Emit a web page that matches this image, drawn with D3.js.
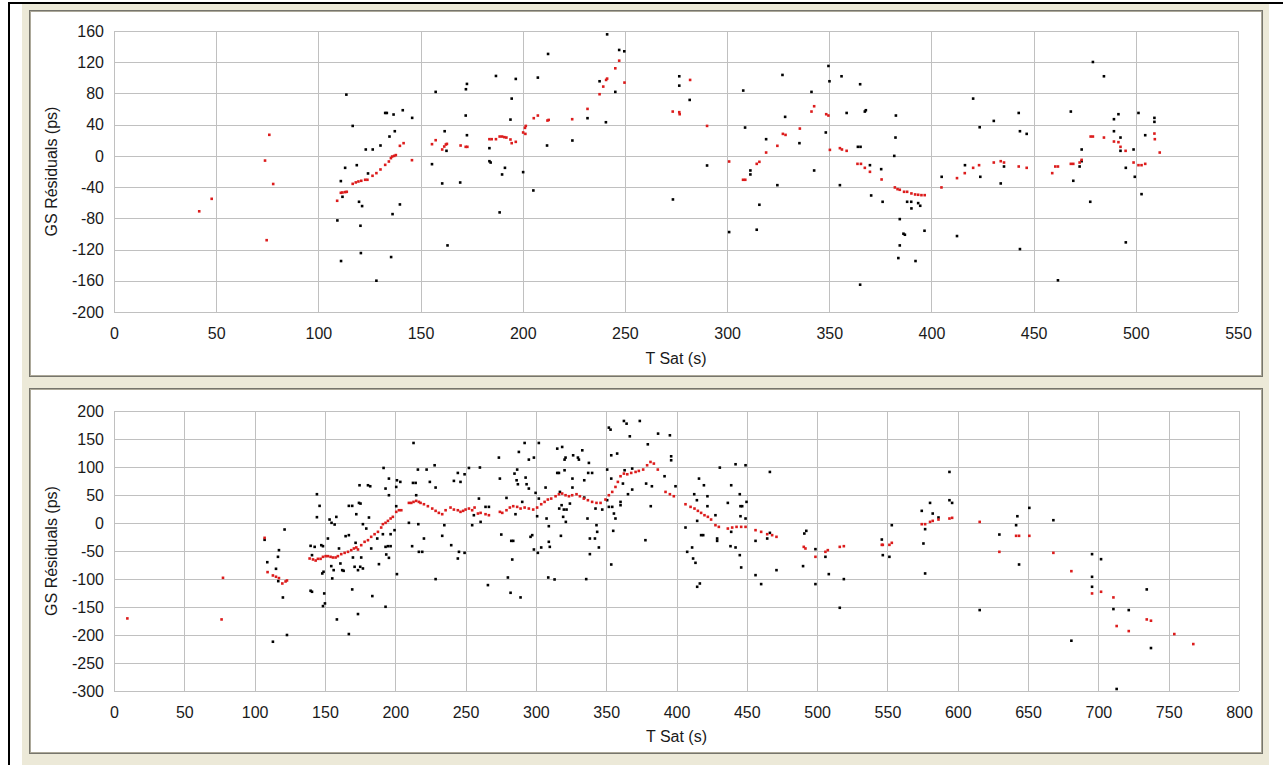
<!DOCTYPE html>
<html>
<head>
<meta charset="utf-8">
<script src="https://cdn.jsdelivr.net/npm/d3@7"></script>
<style>
  body { margin: 0; background: #fff; }
  svg { display: block; }
  .tick text { font-family: "Liberation Sans", Arial, sans-serif; font-size: 16px; fill: #1a1a1a; }
  .axis-title { font-family: "Liberation Sans", Arial, sans-serif; font-size: 16px; fill: #1a1a1a; }
</style>
</head>
<body>
<svg id="chart" width="1283" height="765"></svg>
<script>
// tick values
var topXTicks = [0, 50, 100, 150, 200, 250, 300, 350, 400, 450, 500, 550];
var topYTicks = [-200, -160, -120, -80, -40, 0, 40, 80, 120, 160];
var botXTicks = [0, 50, 100, 150, 200, 250, 300, 350, 400, 450, 500, 550, 600, 650, 700, 750, 800];
var botYTicks = [-300, -250, -200, -150, -100, -50, 0, 50, 100, 150, 200];

var xTitle = "T Sat (s)";
var yTitle = "GS Résiduals (ps)";

// top panel: raw residuals (black), smoothed (red)  [T sat, residual]
var topBlack = [
  [113.7,78.5],[116.8,38.4],[132.7,55],[133.5,55],[136.8,53],[141.3,58.5],[145.9,48.7],[137.4,31.6],
  [134.8,24.8],[130.4,13.3],[126.6,8.2],[123.2,8.2],[113.1,-15.3],[118.8,-11.9],[111,-32.3],[124.3,-22.5],
  [111.8,-52.4],[119.9,-58.8],[121.4,-64.3],[139.9,-62.2],[136.3,-74.6],[109.3,-82.7],[120.6,-89.5],
  [120.8,-124.5],[135.6,-129.6],[111.1,-134.7],[128.4,-159.9],
  [157.4,82],[155.6,-10.6],[161.8,31.6],[160.6,-35.3],[162.7,6.5],[163.2,-114.7],[169.4,-34.1],[172.2,85.4],
  [172.7,92.2],[172.1,51.7],[172.7,26.5],[183.7,9.9],[183.7,-6.8],[184.3,-8.5],[186.9,102.4],[188.7,-72.4],
  [189.9,-23.8],[191.3,-15.3],[194,46.5],[194.6,73.4],[196.6,98.6],[200.2,-20.8],[205.2,-44.3],[207.4,100.3],
  [211.9,13.3],[212.4,130.6],[224.3,19.7],[231.7,48.3],[240.7,43.1],[237.6,95.6],[241.3,155.7],[245.3,82],
  [247.2,135.7],[249.7,134],[273.5,-55.8],[276.6,102],[276.6,90],[281.7,71.7],[290.2,-12.3],[301,-97.6],
  [307.9,83.7],[308.8,36.3],[311.4,-23.8],[311.4,-18.7],[319.1,21.4],[315.8,-62.6],[314.5,-94.6],[324.6,-37.5],
  [327.1,103.7],[328.4,50],[335.4,16.3],[341.3,82],[342.6,-18.7],[348.3,30],[349.6,115.2],[350.1,95.6],
  [356,102],[358.5,55],[355.2,-37.5],[365.3,11.6],[365.1,-165],
  [365.1,91.8],[367.4,56.8],[367.9,58.5],[364,11.6],[369.9,-11.9],[370.5,-50.7],[375.4,-17],[376.1,-58.8],
  [381.8,0],[382.4,23.5],[382.6,51.7],[384.5,-81],[384.5,-114.7],[383.8,-130.9],[386.3,-99.7],[387,-101],
  [388.1,-58.8],[390.1,-58.8],[390.2,-67.3],[393.5,-60.5],[394.5,-63.9],[392.2,-134.7],[396.6,-95.9],
  [405,-26.8],[412.5,-102.7],[416.4,-11.9],[420.4,73.4],[423.6,36.7],[423.9,-26.8],[430.5,44.8],[433.9,-35.3],
  [435.5,-13.6],[442.7,55],[443.3,31.6],[443.3,-119.4],[446.6,28.2],[461.9,-159.4],[468.2,56.8],[469.4,-31.9],
  [472.5,-13.6],[473.5,8.2],[473.5,-6.8],[477.7,-58.8],[479,120.3],[484.4,102],[489.3,47],[491.5,53.4],
  [489.3,31.6],[492.5,23.5],[492.5,6.5],[495.1,-15.3],[495.1,-110.8],[498.9,8.2],[499.5,-26.8],[501.3,55],
  [502.8,-49],[504.6,26.5],[509.1,48.7],[509.1,43.6]
];
var topRed = [
  [41.7,-71],[47.8,-55],[73.9,-6],[74.7,-108],[76,27],[77.9,-36],
  [109.2,-57.5],[111,-47.3],[111.8,-46.9],[113.1,-46.4],[113.9,-46],[116.8,-35.8],[118.3,-34],[119.6,-32.8],
  [121,-31.9],[122.9,-30.6],[124,-30.6],[126.5,-25.5],[128.4,-22.1],[130.4,-17.4],[132.7,-11.5],[134.5,-7.2],
  [135.5,-2.9],[136.1,-0.8],[137.1,0],[137.9,1],[139.9,12.9],[141.7,16.3],[145.8,-5.5],
  [155.6,15],[157.4,20.1],[160.6,8.2],[161.6,12],[162.4,14.6],[162.9,15.4],[169.6,13.3],[172.1,11.6],
  [172.9,11.6],[183.7,21.4],[184.8,21.4],[186.9,21.4],[188.7,24.8],[189.9,24.8],[191,24],[192,23.5],
  [194,21],[194.6,16.3],[196.6,18],[200.2,30],[201.1,35.9],[201.5,38.4],[201.3,28.2],[205.4,48.3],
  [207.4,51.7],[212.1,45.3],[212.7,46.1],[224.2,47],[231.7,60.2],[237.6,79],[239.4,88.8],[240.8,97.3],
  [241.3,99],[245.3,112.2],[247.2,122],[249.8,93.9],[273.4,56.8],[276.6,56],[276.8,53.4],[281.9,97.3],
  [290.2,38.4],[301,-7.2],[307.8,-30.6],[308.9,-30.6],[314.5,-10.2],[315.8,-7.6],[319.1,4.3],[324.6,12.9],
  [327.3,28.2],[328.6,26.9],[335.6,35],[341.3,56.8],[342.6,63.6],[348.5,53.4],[349.6,51.7],[350.3,7.7],
  [355.2,9.9],[356.2,8.2],[358.5,6.5],[365.5,-10.2],[363.8,-10.2],
  [367.4,-15.3],[369.9,-20.4],[375.6,-30.2],[382.1,-40.4],[383.4,-42.6],[384.5,-43.4],[386.6,-46],
  [388.1,-46],[390.2,-48.1],[392,-49.4],[393.5,-49.8],[395.1,-50.3],[396.7,-50.3],[404.9,-40.4],[412.5,-28.5],
  [416.3,-22.1],[420.4,-15.3],[423.3,-11.9],[430.5,-8.5],[433.9,-6.8],[435.5,-8.5],[442.7,-13.6],[446.6,-15.3],
  [459.1,-22.1],[460.6,-13.6],[461.9,-13.6],[468.2,-10.2],[469.4,-10.2],[472.5,-8.5],[473.5,-5.1],[477.9,24.8],
  [479,24.8],[484.4,23.5],[489.3,18.4],[491.5,17.6],[492.5,11.6],[495,6.5],[498.9,-8.5],[501.3,-11.9],
  [502.8,-11.9],[504.6,-10.2],[509.1,28.6],[509.3,21.4],[511.7,4.3]
];

// bottom panel
var botBlack = [
  [109,-70],[113,-212],[115.2,-81.8],[116.6,-60.4],[117.3,-48.5],[116.8,-103.8],[120.1,-133],[121.3,-11.6],[123,-200],
  [107.1,-30],
  [139.8,-121],[140.8,-122.8],[144.3,51.4],[146.2,30.6],[144.3,10.4],[139.8,-40.8],[142.7,-42.6],[140.8,-57.4],
  [147.4,-39.6],[148.6,-41.4],[149,-87.1],[148.1,-90.1],[149.5,-125.8],[150,-143.6],[148.6,-148.4],[152.1,-27.7],
  [153.3,6.2],[154.7,0.3],[156.9,-2.7],[158.1,10.9],[154.5,-77],[156.2,-84.2],[155.2,-99],[158.5,-172.2],
  [160,-45.5],[161,-72.3],[162.3,-84.2],[163.3,-85.4],[164.7,-23.5],[167,-21.7],[167,30.6],[169.4,30.6],
  [167,-198.3],[169.4,-118.6],[171.8,-35.4],[172.3,15.7],[174.2,35.9],[175.3,34.7],[174.6,67.4],[173.5,-162.6],
  [173.5,-84.2],[175.1,-78.2],[177,-81.2],[171.1,-78.2],[169.9,-61.6],[175.8,-61.6],[177,-2.1],[179.4,-9.9],
  [181.3,9.8],[180.6,67.4],[182.2,65.6],[182.9,-45.5],[183.7,-130.5],[188.4,-73.5],[187.2,-27.7],[191.2,-20],
  [191.7,98.3],[193.1,61.5],[195.5,79.3],[195.5,49.6],[193.1,-42.6],[194.8,-41.4],[196.7,-41.4],[193.6,-56.2],
  [195.5,-62.2],[193.1,-149.6],[196.7,-20],[199.5,-12.8],[200.7,64.4],[201.2,76.3],[203.6,73.4],[200.7,30],
  [201.2,-91.3],[209.7,0.3],[212,-41.4],[213,142.9],[212.6,71.6],[214.5,71.6],[216.1,95.4],[214.9,49.6],
  [216.4,-2.1],[216.8,-51.5],
  [222.3,95.4],[228,103.1],[224.6,73.4],[228.7,63.3],[220.4,-27.7],[219.2,-51.5],[228.7,-100.2],[233.4,-22.9],
  [234.9,-3.9],[239.8,-39.6],[241.7,75.2],[244.5,89.4],[246.4,73.4],[249.3,87],[252.4,98.3],[245.3,-51.5],
  [244.5,-63.4],[249.3,-53.3],[254.7,-3.9],[255.9,13.9],[259.5,43.6],[260.2,99.1],[260.7,2],[264.2,28.8],
  [266.6,28.8],[265.9,-110.9],[273.7,116.8],[274.4,79.3],[275.4,-20.6],[279.1,44.8],[280.1,-97.3],[282,-124.6],
  [283.2,-65.2],[282.5,-31.9],[283.9,-31.9],[284.8,88.2],[286.7,95.4],[286.3,76.3],[287.2,69.2],[287.9,126.9],
  [289.1,-132.9],[285.5,15.7],[290.3,37.7],[292,142.9],[292.7,81.1],[293.4,69.2],[295,113.2],[295,61.5],
  [298.6,116.8],[299.8,53.8],[302.1,142.9],[296.2,-24.7],[297.4,-21.7],[298.6,-47.3],[301.4,-53.3],[302.1,43.6],
  [300.9,12.1],[303.8,-43.7],[306.9,63.3],[307.6,8],[309.2,-5.7],[309.2,-33.6],[309.9,-42.6],[308.8,-97.3],
  [313.3,-100.8],[315.2,132.8],[318.7,135.8],[315.2,89.4],[316.4,89.4],[320.4,94.2],[321.1,116.8],[320.4,113.2],
  [326.5,120.9],[329.9,116.8],[333,129.8],[330.6,113.2],[337.7,107.3],[326,79.3],[326,63.3],[334.4,76.3],
  [337.2,89.4],[340,89.4],[317.1,55.5],[316.6,25.8],[318.3,31.8],[319.9,24],[321.8,24],[319.4,11],
  [321.3,2],[324.2,34.7],[317.8,-22.9],[334.4,45.4],[336.7,8],[338.4,-27.7],[342,-27.7],[338.4,-55.6],
  [335.8,-100.2],[343.1,-3.9],[343.6,-15.8],[344.8,-43.7],[342.4,25.8],[347.2,24],[350.7,95.4],[351.9,170.3],
  [353.1,166.7],[353.6,120.9],[357.8,124],[353.6,79.3],[350.7,40.7],[351.9,28.8],[354.3,28.8],[355.5,16.9],
  [356.6,8],[355,-14],[360.2,31.8],[360.2,37.7],[361.9,70.4],[353.6,-74.1],[362.6,182.2],[364.5,177.4],
  [366.8,154.8],[373.9,182.2],[363.1,94.2],[368.5,97.2],[365.5,51.4],[368.5,59.7],[379.6,140.5],[386.9,159.6],
  [395.3,156.6],[396.2,119.1],[396.2,112],[378.4,70.4],[382.5,65.6],[381.7,30],[391.5,83.5],[399.3,65.6],
  [377.9,-30.7],[406.4,-8.1],[407.6,-51.5],[411.1,-43.7],[411.8,-63.4],[413.5,-71.1],[414.7,-113.9],[416.6,-108],
  [416,79.3],[419.5,67.4],[412.6,51.4],[414.5,40.7],[422,47.8],[414.7,3.8],[417.5,-21.7],[419,-21.7],
  [422,30],[427.7,13.9],[428.9,-27.7],[428.9,-31.9],[430.8,98.9],[436.5,35.9],[438.9,67.4],[442,104.9],
  [449.1,103.1],[438.4,-41.4],[442,-43.7],[445,-57.4],[446,-79.4],[438.9,-15.8],[445,51.4],[445.5,30],
  [446.7,30],[445.5,12.1],[449.8,37.7],[449.1,8],[456.2,-31.9],[456.2,-93.1],[460.2,-109.1],[464.5,-27.7],
  [466.4,91.2],[466.4,-17.6],[471.1,-84.2],[490,-77],[490.9,-18.8],[492.3,-14],[498.8,-109.1],[498.8,-46.7],
  [505.9,-60.4],[508.3,-91.3],[516.1,-151.4],[519,-100.2],
  [546,-29.5],[546.7,-57.4],[551.4,-60.4],[553.1,-3.9],[574.4,21.7],[576.8,-11],[575.6,-36.6],[576.8,-90.1],
  [580.3,35.9],[582.2,16.9],[586.3,9.8],[594.1,91.2],[594.1,40.7],[596,35.9],[615.6,-155.5],[629.6,-20.6],
  [642.4,12.1],[641.5,-3.9],[643.6,-74.1],[650.9,27],[668,5],[680.8,-210.2],[695.5,-55.6],[701.9,-64.6],
  [695.5,-96.1],[695.5,-113.9],[710.7,-153.7],[721.6,-155.5],[713,-296.4],[734.4,-118.6],[737.4,-223.3]
];
var botRed = [
  [9.5,-170.4],[77.5,-97.9],[76.5,-172.2],[107.1,-26.5],[109.2,-87.7],[113,-93.7],[115.2,-96],[117.3,-98.4],
  [119.7,-108],[122,-104.4],[123,-102.6],
  [139.1,-63.4],[141.5,-65.1],[143.4,-67],[145,-64],[146.9,-64],[148.6,-60.4],[150.5,-59.2],[152.1,-59.2],
  [154,-60.4],[155.7,-61.6],[157.6,-61.6],[159.2,-59.2],[161.6,-55.6],[164,-53.3],[166.4,-51.5],[168.7,-48.5],
  [170.6,-45.5],[172.3,-43.7],[173.5,-47.3],[175.8,-39.6],[178.2,-33.6],[180.6,-30.7],[182.9,-24.7],[185.3,-20],
  [187.7,-15.8],[190,-8.1],[191.2,-2.1],[193.1,0.3],[194.8,3.8],[196.7,8],[198.3,11],[200.7,19.9],
  [202.6,22.8],[204.3,22.8],[209.7,35.9],[211.4,35.9],[213,37.7],[214.9,39.5],[216.8,37.7],
  [218,35.9],[220.4,33.5],[223.2,30],[226.3,25.8],[228.7,21.7],[231,18.1],[233.4,15.7],[235.8,22.8],
  [239.3,27.6],[241.7,24],[244.5,22.8],[246.4,19.9],[248.3,21.7],[250,24],[252.4,25.8],[254.7,22.8],
  [256.4,27.6],[258.8,16.9],[260.7,18.1],[264.2,15.7],[266.6,13.9],[274.4,19.9],[276.1,18.1],[279.1,22.8],
  [281.5,27.6],[283.9,30],[286.7,28.8],[289.1,25.8],[292,27.6],[295,25.8],[298.1,24],[300.9,27.6],
  [303.8,33.5],[306.2,37.7],[308.5,41.9],[310.9,43.6],[314,47.8],[316.4,51.4],[318.7,52.6],[321.1,49.6],
  [323.5,47.8],[325.8,49.6],[328.9,51.4],[331.3,47.8],[334.1,43.6],[337,40.7],[340,37.7],[343.1,35.9],
  [346,35.9],[349.5,41.9],[351.9,49.6],[354.3,55.5],[356.6,64.4],[358.3,73.4],[360.2,83.5],[362.6,88.2],
  [365,87],[367.8,89.4],[370.9,91.2],[373.2,93],[376.3,95.4],[379.1,103.1],[381.5,109],[383.9,106.1],
  [386.7,95.4],[392.2,55.5],[395.3,51.4],[398.1,47.8],[406.4,33.5],[410,28.8],[412.8,25.8],[415.2,21.7],
  [417.5,18.1],[419.9,13.9],[422.3,11],[424.6,6.2],[427.7,-3.9],[430.1,-6.9],[436.5,-9.9],[439.6,-8.1],
  [442.7,-6.9],[446,-6.9],[449.1,-6.9],[456.2,-12.8],[460.2,-15.8],[464.5,-20],[468,-21.7],[471.1,-24.7],
  [490.5,-42.6],[491.7,-45.5],[498.8,-60.4],[505.9,-51.5],[507.6,-48.5],[516.1,-42.6],[519,-41.4],
  [546,-39],[546.7,-39],[551.4,-39],[553.1,-35.4],[574.4,-2.1],[576.8,-2.1],[580.3,2],[582.2,3.8],
  [586.3,6.2],[594.1,8],[596,9.2],[615.6,2],[629.6,-51.5],[641.5,-22.9],[643.6,-22.9],[650.9,-22.9],
  [668,-53.3],[680.8,-86],[695.5,-125.8],[701.9,-122.8],[710.7,-132.9],[713,-184],[721.6,-193],[734.4,-172.2],
  [737.4,-174.5],[754,-198.3],[767.5,-216.2]
];

var svg = d3.select("#chart");

// window chrome: black frame line, beige background, two sunken panels
svg.append("rect").attr("x", 0).attr("y", 0).attr("width", 1283).attr("height", 765).attr("fill", "#fff");
svg.append("rect").attr("x", 22).attr("y", 4).attr("width", 1247).attr("height", 761).attr("fill", "#ece9d8");
svg.append("rect").attr("x", 8).attr("y", 2).attr("width", 1275).attr("height", 2).attr("fill", "#000");
svg.append("rect").attr("x", 8).attr("y", 2).attr("width", 2).attr("height", 763).attr("fill", "#000");

function drawPanel(cfg) {
  var frame = cfg.frame;
  svg.append("rect")
    .attr("x", frame[0]).attr("y", frame[1])
    .attr("width", frame[2] - frame[0]).attr("height", frame[3] - frame[1])
    .attr("fill", "#fff").attr("stroke", "#76756c").attr("stroke-width", 1);
  svg.append("rect")
    .attr("x", frame[0] + 1).attr("y", frame[1] + 1)
    .attr("width", frame[2] - frame[0] - 2).attr("height", frame[3] - frame[1] - 2)
    .attr("fill", "none").attr("stroke", "#aca899").attr("stroke-width", 1);

  var x = d3.scaleLinear().domain(cfg.xDomain).range([cfg.left, cfg.right]);
  var y = d3.scaleLinear().domain(cfg.yDomain).range([cfg.bottom, cfg.top]);
  var h = cfg.bottom - cfg.top;
  var w = cfg.right - cfg.left;

  var xAxis = svg.append("g")
    .attr("transform", `translate(0, ${cfg.bottom})`)
    .call(d3.axisBottom(x).tickValues(cfg.xTicks).tickSize(-h).tickPadding(16).tickFormat(d3.format("d")));
  var yAxis = svg.append("g")
    .attr("transform", `translate(${cfg.left}, 0)`)
    .call(d3.axisLeft(y).tickValues(cfg.yTicks).tickSize(-w).tickPadding(10).tickFormat(d3.format("d")));

  [xAxis, yAxis].forEach(function(a) {
    a.select(".domain").remove();
    a.selectAll(".tick line").attr("stroke", "#c0c0c0").attr("shape-rendering", "crispEdges");
  });
  // minus sign drawn as plain hyphen, like the original
  yAxis.selectAll(".tick text").text(d => String(d));

  svg.append("text")
    .attr("class", "axis-title")
    .attr("x", (cfg.left + cfg.right) / 2)
    .attr("y", cfg.xTitleY)
    .attr("text-anchor", "middle")
    .text(xTitle);

  svg.append("text")
    .attr("class", "axis-title")
    .attr("transform", `translate(57, ${(cfg.top + cfg.bottom) / 2}) rotate(-90)`)
    .attr("text-anchor", "middle")
    .text(yTitle);

  var s = 2.6;
  svg.append("g").selectAll("rect")
    .data(cfg.black)
    .enter()
    .append("rect")
    .attr("x", d => x(d[0]) - s / 2)
    .attr("y", d => y(d[1]) - s / 2)
    .attr("width", s).attr("height", s)
    .attr("fill", "#000");

  svg.append("g").selectAll("rect")
    .data(cfg.red)
    .enter()
    .append("rect")
    .attr("x", d => x(d[0]) - s / 2)
    .attr("y", d => y(d[1]) - s / 2)
    .attr("width", s).attr("height", s)
    .attr("fill", "#dc1c1c");
}

drawPanel({
  frame: [29.5, 10.5, 1262.5, 376.5],
  left: 114, right: 1238, top: 31, bottom: 312,
  xDomain: [0, 550], yDomain: [-200, 160],
  xTicks: topXTicks, yTicks: topYTicks,
  xTitleY: 364,
  black: topBlack, red: topRed
});

drawPanel({
  frame: [29.5, 388.5, 1262.5, 753.5],
  left: 114, right: 1239, top: 411, bottom: 691,
  xDomain: [0, 800], yDomain: [-300, 200],
  xTicks: botXTicks, yTicks: botYTicks,
  xTitleY: 742,
  black: botBlack, red: botRed
});
</script>
</body>
</html>
